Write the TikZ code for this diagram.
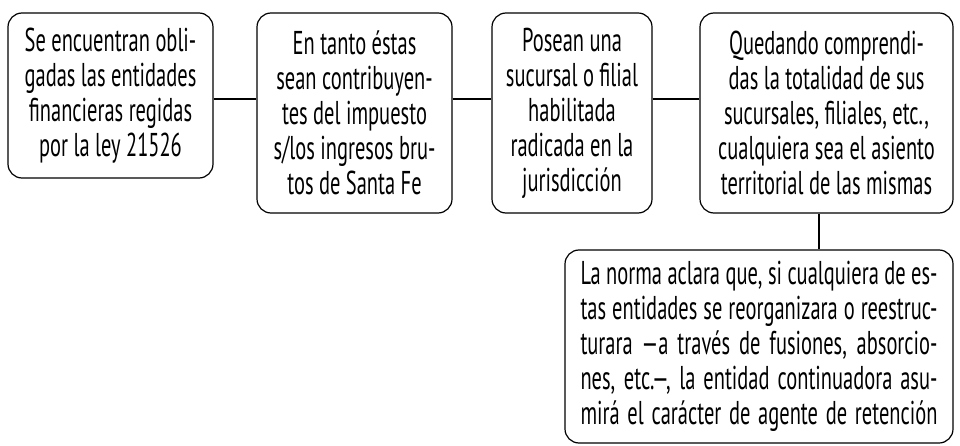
\documentclass[tikz,border=0pt]{standalone}
\usepackage{fontspec}
\setmainfont{PT Sans}[FakeStretch=0.62]
\begin{document}
\begin{tikzpicture}[x=1pt,y=-1pt,
  box/.style={draw,line width=1.2pt,rounded corners=14pt,inner sep=0pt,align=center,
    font=\fontsize{33}{35}\selectfont},
  link/.style={line width=1.2pt}]
\useasboundingbox (0,0) rectangle (960,446);
\coordinate (hy) at (0,99);
\node[box,minimum width=205,minimum height=165] (b1) at (110.5,95.5)
  {Se encuentran obli-\\gadas las entidades\\financieras regidas\\por la ley 21526};
\node[box,minimum width=195,minimum height=200] (b2) at (354.5,113)
  {En tanto éstas\\sean contribuyen-\\tes del impuesto\\s/los ingresos bru-\\tos de Santa Fe};
\node[box,minimum width=160,minimum height=200] (b3) at (572,113)
  {Posean una\\sucursal o filial\\habilitada\\radicada en la\\jurisdicción};
\node[box,minimum width=253,minimum height=200] (b4) at (826.5,113)
  {Quedando comprendi-\\das la totalidad de sus\\sucursales, filiales, etc.,\\cualquiera sea el asiento\\territorial de las mismas};
\node[box,minimum width=388,minimum height=193,align=left] (b5) at (759,346.5)
  {\makebox[357pt][s]{La norma aclara que, si cualquiera de es-}\\
   \makebox[357pt][s]{tas entidades se reorganizara o reestruc-}\\
   \makebox[357pt][s]{turara —a través de fusiones, absorcio-}\\
   \makebox[357pt][s]{nes, etc.—, la entidad continuadora asu-}\\
   \makebox[357pt][s]{mirá el carácter de agente de retención}};
\coordinate (vx) at (819,0);
\draw[link] (b1.east |- hy) -- (b2.west |- hy);
\draw[link] (b2.east |- hy) -- (b3.west |- hy);
\draw[link] (b3.east |- hy) -- (b4.west |- hy);
\draw[link] (b4.south -| vx) -- (b5.north -| vx);
\end{tikzpicture}
\end{document}
